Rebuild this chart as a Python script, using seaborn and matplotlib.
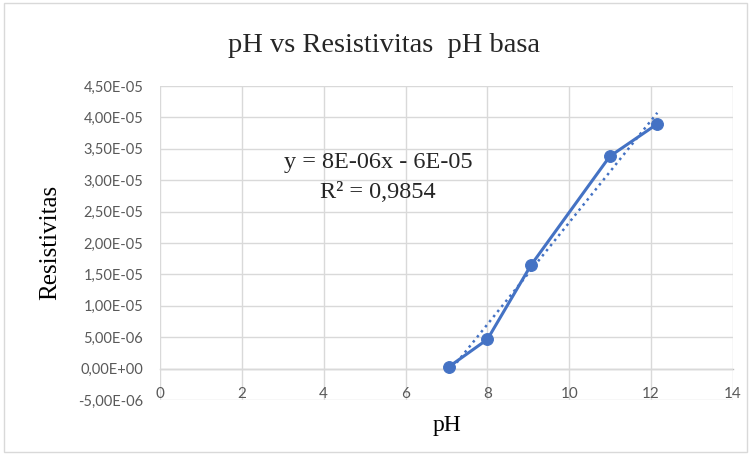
import numpy as np
import pandas as pd
import matplotlib
matplotlib.use("Agg")
import matplotlib.pyplot as plt
import seaborn as sns
from matplotlib.ticker import FuncFormatter, MultipleLocator
from matplotlib.patches import Rectangle

ph = [7.05, 8.0, 9.06, 10.99, 12.15]
resistivitas = [0.25e-6, 4.66e-6, 16.43e-6, 33.8e-6, 38.96e-6]
title = "pH vs Resistivitas  pH basa"
equation = "y = 8E-06x - 6E-05"
r2_text = "R² = 0,9854"

df = pd.DataFrame({"pH": ph, "Resistivitas": resistivitas})

sns.set_theme(style="white")
plt.rcParams["font.family"] = ["Lato", "DejaVu Sans"]

color = "#4472C4"
fig = plt.figure(figsize=(7.51, 4.55), dpi=100)
ax = fig.add_axes([160/751, 1-400/455, (733-160)/751, (400-86)/455])

# trendline (linear, dotted) over data range
sns.regplot(data=df, x="pH", y="Resistivitas", scatter=False, ci=None, truncate=True,
            ax=ax, line_kws=dict(color=color, linestyle=(0, (1, 1.6)), linewidth=1.8))
sns.lineplot(data=df, x="pH", y="Resistivitas", ax=ax, color=color, linewidth=2.2,
             marker="o", markersize=8.5, markeredgecolor=color)

ax.set_xlim(0, 14)
ax.set_ylim(-5e-6, 4.5e-5)
ax.xaxis.set_major_locator(MultipleLocator(2))
ax.yaxis.set_major_locator(MultipleLocator(5e-6))
ax.yaxis.set_major_formatter(FuncFormatter(lambda v, p: f"{v:.2E}".replace(".", ",").replace("-0,00", "0,00")))
ax.xaxis.set_major_formatter(FuncFormatter(lambda v, p: f"{v:g}"))

ax.grid(True, color="#D9D9D9", linewidth=1.0)
ax.set_axisbelow(True)
for s in ["top", "right", "left"]:
    ax.spines[s].set_visible(False)
ax.spines["bottom"].set_position(("data", 0))
ax.spines["bottom"].set_color("#BFBFBF")
ax.spines["bottom"].set_linewidth(1.0)
ax.spines["bottom"].set_zorder(0.5)

ax.tick_params(axis="both", length=0, labelsize=10.5, labelcolor="#595959")
ax.tick_params(axis="x", pad=13, labelsize=11)
ax.tick_params(axis="y", pad=12)

serif = ["Liberation Serif", "DejaVu Serif"]
ax.set_xlabel("pH", fontsize=17, family=serif, color="#000000", va="center", ha="center")
ax.set_ylabel("Resistivitas", fontsize=18, family=serif, color="#000000", va="center", ha="center")
ax.xaxis.set_label_coords((447-160)/573, -(425-400)/314)
ax.yaxis.set_label_coords(-(160-50)/573, (400-242)/314)

fig.text(384/751, 1-45/455, title, ha="center", va="center", fontsize=20.5, family=serif)
fig.text(378/751, 1-162/455, equation, ha="center", va="center", fontsize=17.5, family=serif)
fig.text(378/751, 1-192/455, r2_text, ha="center", va="center", fontsize=17.5, family=serif)

fig.patches.append(Rectangle((4/751, 3/455), 1-8/751, 1-6/455, transform=fig.transFigure,
                             fill=False, edgecolor="#D9D9D9", linewidth=1.0))

fig.savefig("out.png", dpi=100)
